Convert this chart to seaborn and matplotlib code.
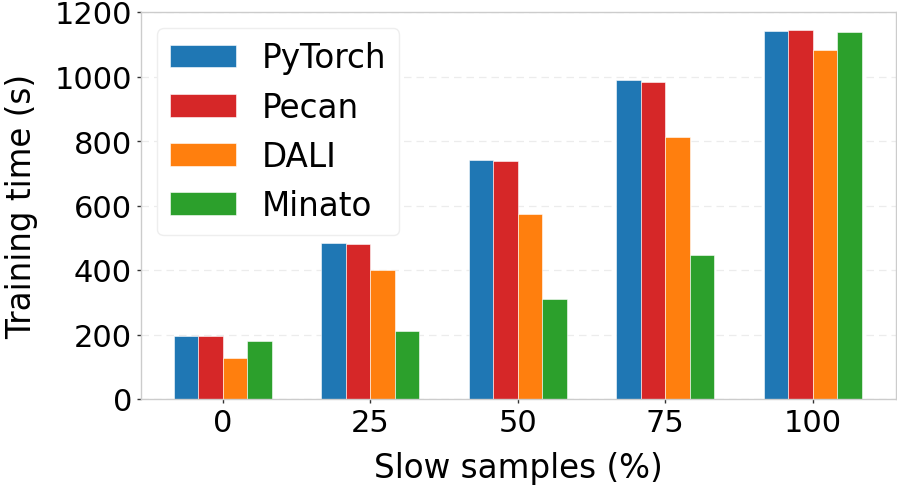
import matplotlib
matplotlib.use("Agg")
import matplotlib.pyplot as plt
import seaborn as sns
import pandas as pd

# datos
slow_pct = ["0", "25", "50", "75", "100"]
pytorch = [196, 485, 740, 988, 1141]
pecan = [195, 482, 737, 983, 1143]
dali = [128, 401, 573, 813, 1081]
minato = [180, 210, 311, 447, 1138]

systems = ["PyTorch", "Pecan", "DALI", "Minato"]
colors = ["#1f77b4", "#d62728", "#ff7f0e", "#2ca02c"]

rows = []
for name, vals in zip(systems, [pytorch, pecan, dali, minato]):
    for pct, v in zip(slow_pct, vals):
        rows.append({"Slow": pct, "System": name, "Time": v})
df = pd.DataFrame(rows)

sns.set_style("white")
plt.rcParams['font.family'] = ['DejaVu Sans']
plt.rcParams['text.color'] = 'black'
plt.rcParams['axes.labelcolor'] = 'black'
plt.rcParams['xtick.color'] = 'black'
plt.rcParams['ytick.color'] = 'black'

fig = plt.figure(figsize=(8.97, 4.89), dpi=100)
ax = fig.add_axes([141 / 897, 1 - 400 / 489, 755 / 897, 387 / 489])

sns.barplot(data=df, x="Slow", y="Time", hue="System", order=slow_pct,
            hue_order=systems, palette=colors, saturation=1, width=0.665,
            edgecolor="white", linewidth=0.4, ax=ax)

ax.set_ylim(0, 1200)
ax.set_xlim(-0.556, 4.566)
ax.set_yticks(range(0, 1201, 200))
ax.yaxis.grid(True, linestyle=(0, (6, 4)), color="#ececec", linewidth=0.9)
ax.set_axisbelow(True)
for s in ax.spines.values():
    s.set_color("#cccccc")
    s.set_linewidth(1.0)

ax.tick_params(axis="both", labelsize=22, length=3, width=1, color="#333333",
               bottom=True, left=True)
ax.set_xlabel("Slow samples (%)", fontsize=23.5, labelpad=10)
ax.set_ylabel("Training time (s)", fontsize=23.5, labelpad=12)

leg = ax.legend(loc="upper left", fontsize=23.5, frameon=True, fancybox=True,
                framealpha=1, edgecolor="#eeeeee", borderaxespad=0.5,
                handlelength=2.0)
leg.set_title(None)

fig.savefig("out.png", dpi=100)
